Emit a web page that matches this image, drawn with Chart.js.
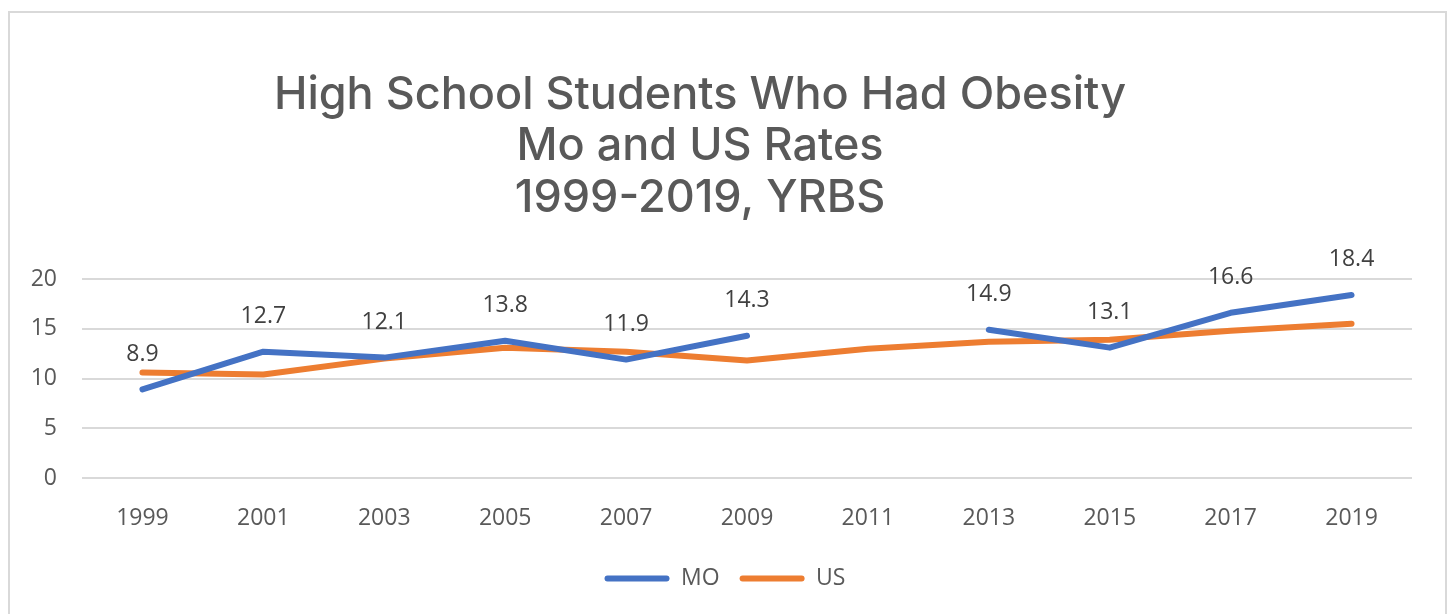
<!DOCTYPE html>
<html>
<head>
<meta charset="utf-8">
<script src="https://cdn.jsdelivr.net/npm/chart.js@4"></script>
<style>
  html, body { margin: 0; padding: 0; background: #fff; }
  #frame { position: absolute; left: 8px; top: 11px; width: 1435px; height: 620px; border: 2px solid #d9d9d9; }
  #wrap { position: absolute; left: 0; top: 0; width: 1450px; height: 614px; }
</style>
</head>
<body>
<div id="frame"></div>
<div id="wrap"><canvas id="chart"></canvas></div>
<script>
// chart data
const years = ['1999', '2001', '2003', '2005', '2007', '2009', '2011', '2013', '2015', '2017', '2019'];
const moRates = [8.9, 12.7, 12.1, 13.8, 11.9, 14.3, null, 14.9, 13.1, 16.6, 18.4];
const usRates = [10.6, 10.4, 12.0, 13.1, 12.7, 11.8, 13.0, 13.7, 13.9, 14.8, 15.5];
const titleLines = ['High School Students Who Had Obesity', 'Mo and US Rates', '1999-2019, YRBS'];

// labels above the MO points
const pointLabels = {
    id: 'pointLabels',
    afterDatasetsDraw(chart) {
        const ctx = chart.ctx;
        const meta = chart.getDatasetMeta(0);
        ctx.save();
        ctx.font = '23px "Open Sans"';
        ctx.fillStyle = '#404040';
        ctx.textAlign = 'center';
        ctx.textBaseline = 'middle';
        meta.data.forEach((pt, i) => {
            const v = moRates[i];
            if (v === null) return;
            ctx.fillText(v.toFixed(1), pt.x, pt.y - 35);
        });
        ctx.restore();
    }
};

// title sits a little left of the page centre in the original, so draw it by hand
const titleText = {
    id: 'titleText',
    afterDraw(chart) {
        const ctx = chart.ctx;
        ctx.save();
        ctx.font = '500 45px Inter';
        ctx.fillStyle = '#595959';
        ctx.textAlign = 'center';
        ctx.textBaseline = 'middle';
        titleLines.forEach((line, i) => ctx.fillText(line, 700, 95 + i * 51.5));
        ctx.restore();
    }
};

const ctx = document.getElementById('chart');
new Chart(ctx, {
    type: 'line',
    data: {
        labels: years,
        datasets: [{
            label: 'MO',
            data: moRates,
            borderColor: '#4472C4',
            backgroundColor: '#4472C4',
            borderWidth: 6,
            borderCapStyle: 'round',
            borderJoinStyle: 'round',
            pointRadius: 0,
            tension: 0,
            spanGaps: false
        }, {
            label: 'US',
            data: usRates,
            borderColor: '#ED7D31',
            backgroundColor: '#ED7D31',
            borderWidth: 6,
            borderCapStyle: 'round',
            borderJoinStyle: 'round',
            pointRadius: 0,
            tension: 0
        }]
    },
    options: {
        responsive: true,
        maintainAspectRatio: false,
        animation: false,
        layout: { padding: { left: 0, right: 0, top: 279, bottom: 14 } },
        scales: {
            x: {
                offset: true,
                grid: { display: false },
                border: { display: false },
                ticks: { color: '#595959', font: { family: '"Open Sans"', size: 23 }, padding: 19, maxRotation: 0 },
                afterFit: s => { s.height = 69; }
            },
            y: {
                min: 0,
                max: 20,
                grid: { color: '#d9d9d9', lineWidth: 2, drawTicks: false },
                border: { display: false },
                ticks: { stepSize: 5, color: '#595959', font: { family: '"Open Sans"', size: 23 }, padding: 25 },
                afterFit: s => { s.width = 82; }
            },
            // empty right-hand spacer so the legend stays centred on the page
            yRight: {
                position: 'right',
                grid: { display: false },
                border: { display: false },
                ticks: { display: false },
                afterFit: s => { s.width = 38; }
            }
        },
        plugins: {
            title: { display: false },
            legend: {
                position: 'bottom',
                labels: {
                    boxWidth: 65,
                    boxHeight: 6,
                    padding: 20,
                    color: '#595959',
                    font: { family: '"Open Sans"', size: 23 },
                    useBorderRadius: true,
                    borderRadius: 3,
                    generateLabels(chart) {
                        const items = Chart.defaults.plugins.legend.labels.generateLabels(chart);
                        items.forEach(it => { it.lineWidth = 0; it.fillStyle = it.strokeStyle; });
                        return items;
                    }
                }
            },
            tooltip: { enabled: false }
        }
    },
    plugins: [pointLabels, titleText]
});
</script>
</body>
</html>
